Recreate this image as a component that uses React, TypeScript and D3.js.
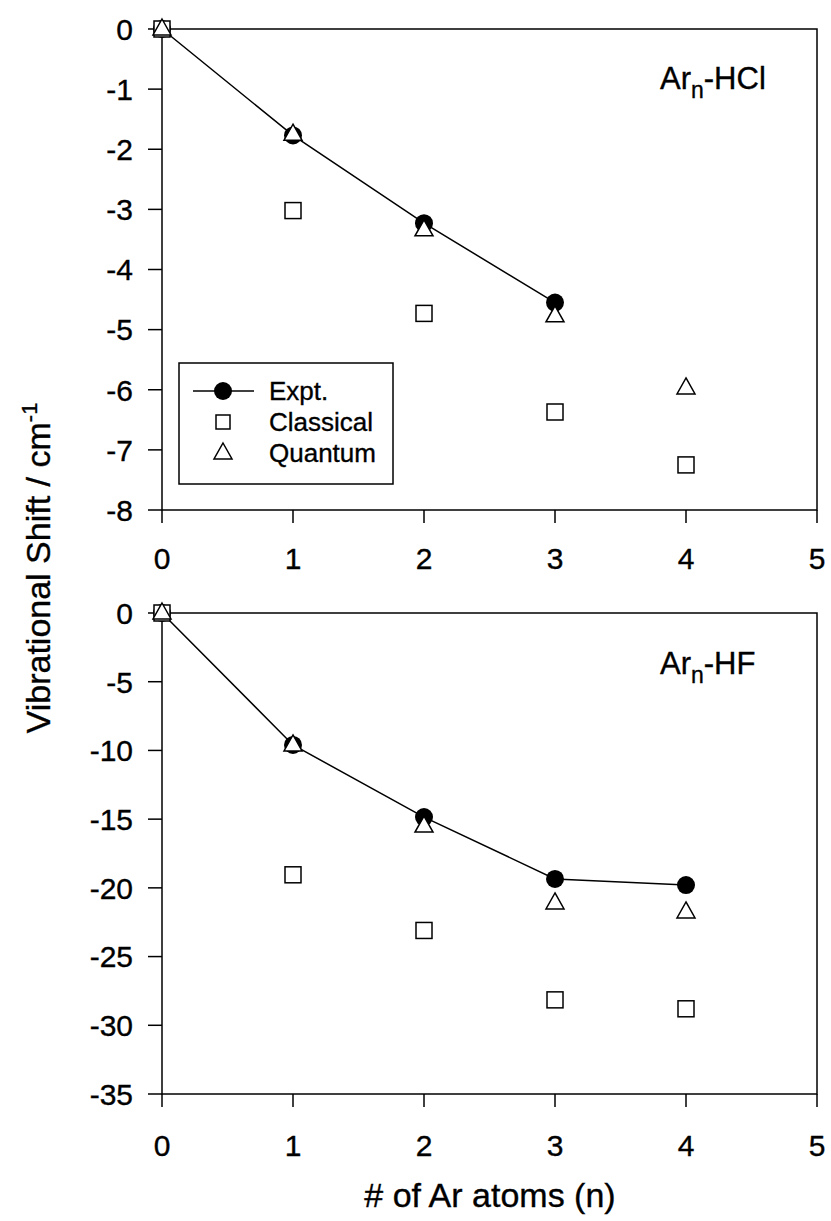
import { useRef, useEffect } from 'react';
import * as d3 from 'd3';

// n = number of Ar atoms
const nAtoms = [0, 1, 2, 3, 4];

// Ar_n-HCl shifts (cm-1)
const hclExpt = [0, -1.77, -3.23, -4.55];
const hclClassical = [0, -3.02, -4.73, -6.37, -7.25];
const hclQuantum = [0, -1.75, -3.34, -4.77, -5.97];

// Ar_n-HF shifts (cm-1)
const hfExpt = [0, -9.6, -14.85, -19.35, -19.8];
const hfClassical = [0, -19.05, -23.1, -28.15, -28.8];
const hfQuantum = [0, -9.6, -15.5, -21.1, -21.75];

const xTicks = [0, 1, 2, 3, 4, 5];
const hclTicks = [0, -1, -2, -3, -4, -5, -6, -7, -8];
const hfTicks = [0, -5, -10, -15, -20, -25, -30, -35];

const legendItems = ['Expt.', 'Classical', 'Quantum'];

const W = 831;
const H = 1221;
const FONT = '"Liberation Sans", Arial, Helvetica, sans-serif';

const triPath = 'M0,-10L9,6L-9,6Z';

// scanned text looks a bit heavy, thicken slightly
const txt = (sel: d3.Selection<any, any, any, any>, size: number) =>
    sel.style('font-family', FONT).style('font-size', `${size}px`)
        .attr('stroke', '#000').attr('stroke-width', 0.35);

const App = () => {
    const svgRef = useRef<SVGSVGElement | null>(null);

    useEffect(() => {
        if (!svgRef.current) return;
        const svg = d3.select(svgRef.current);
        svg.selectAll('*').remove();

        const xScale = d3.scaleLinear().domain([0, 5]).range([162, 817]);

        const panels = [
            { expt: hclExpt, classical: hclClassical, quantum: hclQuantum, ticks: hclTicks, domain: [0, -8], range: [29, 510], label: '-HCl', labelY: 89, xLabelY: 569, legend: true },
            { expt: hfExpt, classical: hfClassical, quantum: hfQuantum, ticks: hfTicks, domain: [0, -35], range: [613, 1094], label: '-HF', labelY: 674, xLabelY: 1156, legend: false },
        ];

        panels.forEach(p => {
            const yScale = d3.scaleLinear().domain(p.domain).range(p.range);
            const g = svg.append('g');
            const [y0, y1] = p.range;

            // frame
            g.append('rect')
                .attr('x', xScale(0)).attr('y', y0)
                .attr('width', xScale(5) - xScale(0)).attr('height', y1 - y0)
                .attr('fill', 'none').attr('stroke', '#000').attr('stroke-width', 1.5);

            // y ticks
            g.selectAll('.yt').data(p.ticks).join('line')
                .attr('x1', xScale(0) - 14).attr('x2', xScale(0))
                .attr('y1', d => yScale(d)).attr('y2', d => yScale(d))
                .attr('stroke', '#000').attr('stroke-width', 1.5);
            txt(g.selectAll('.yl').data(p.ticks).join('text')
                .attr('x', 133).attr('y', d => yScale(d))
                .attr('dy', '0.36em')
                .attr('text-anchor', 'end'), 30)
                .text(d => String(d));

            // x ticks
            g.selectAll('.xt').data(xTicks).join('line')
                .attr('x1', d => xScale(d)).attr('x2', d => xScale(d))
                .attr('y1', y1).attr('y2', y1 + 13)
                .attr('stroke', '#000').attr('stroke-width', 1.5);
            txt(g.selectAll('.xl').data(xTicks).join('text')
                .attr('x', d => xScale(d)).attr('y', p.xLabelY)
                .attr('text-anchor', 'middle'), 30)
                .text(d => d);

            // expt line
            g.append('path')
                .datum(p.expt)
                .attr('fill', 'none').attr('stroke', '#000').attr('stroke-width', 1.5)
                .attr('d', d3.line<number>().x((_d, i) => xScale(nAtoms[i])).y(d => yScale(d)));

            g.selectAll('.ex').data(p.expt).join('circle')
                .attr('cx', (_d, i) => xScale(nAtoms[i])).attr('cy', d => yScale(d))
                .attr('r', 9).attr('fill', '#000');

            g.selectAll('.cl').data(p.classical).join('rect')
                .attr('x', (_d, i) => xScale(nAtoms[i]) - 8).attr('y', d => yScale(d) - 8)
                .attr('width', 16).attr('height', 16)
                .attr('fill', '#fff').attr('stroke', '#000').attr('stroke-width', 1.5);

            g.selectAll('.qu').data(p.quantum).join('path')
                .attr('d', triPath)
                .attr('transform', (d, i) => `translate(${xScale(nAtoms[i])},${yScale(d)})`)
                .attr('fill', '#fff').attr('stroke', '#000').attr('stroke-width', 1.5);

            // panel label
            const lbl = txt(g.append('text')
                .attr('x', 660).attr('y', p.labelY), 31);
            lbl.append('tspan').text('Ar');
            lbl.append('tspan').attr('dy', 9).style('font-size', '23px').text('n');
            lbl.append('tspan').attr('dy', -9).text(p.label);

            if (p.legend) {
                const lg = g.append('g');
                lg.append('rect')
                    .attr('x', 179).attr('y', 363).attr('width', 214).attr('height', 121)
                    .attr('fill', '#fff').attr('stroke', '#000').attr('stroke-width', 1.5);
                const rowY = [391, 422, 453];
                lg.append('line')
                    .attr('x1', 193).attr('x2', 254).attr('y1', rowY[0]).attr('y2', rowY[0])
                    .attr('stroke', '#000').attr('stroke-width', 1.5);
                lg.append('circle').attr('cx', 223).attr('cy', rowY[0]).attr('r', 9).attr('fill', '#000');
                lg.append('rect')
                    .attr('x', 216).attr('y', rowY[1] - 7).attr('width', 14).attr('height', 14)
                    .attr('fill', '#fff').attr('stroke', '#000').attr('stroke-width', 1.5);
                lg.append('path').attr('d', triPath)
                    .attr('transform', `translate(223,${rowY[2]})`)
                    .attr('fill', '#fff').attr('stroke', '#000').attr('stroke-width', 1.5);
                txt(lg.selectAll('.lt').data(legendItems).join('text')
                    .attr('x', 269).attr('y', (_d, i) => rowY[i])
                    .attr('dy', '0.36em'), 26)
                    .text(d => d);
            }
        });

        // axis titles
        txt(svg.append('text')
            .attr('x', 490).attr('y', 1207)
            .attr('text-anchor', 'middle'), 34)
            .text('# of Ar atoms (n)');

        const yt = txt(svg.append('text')
            .attr('transform', 'translate(50,568) rotate(-90)')
            .attr('text-anchor', 'middle'), 34);
        yt.append('tspan').text('Vibrational Shift / cm');
        yt.append('tspan').attr('dy', -13).style('font-size', '22px').text('-1');
    }, []);

    return (
        <svg ref={svgRef} width={W} height={H}
            style={{ position: 'absolute', left: 0, top: 0, background: '#fff' }} />
    );
};

export default App;
